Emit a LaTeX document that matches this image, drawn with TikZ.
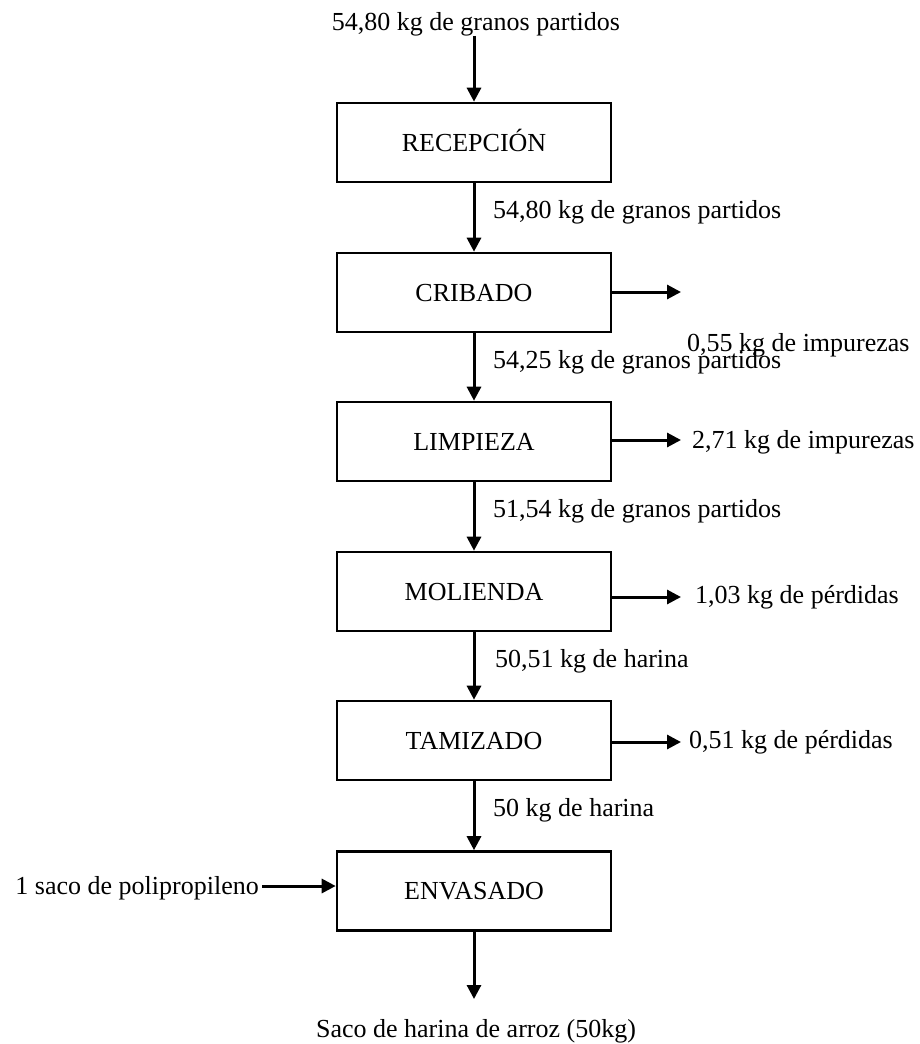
\documentclass[tikz,border=0pt]{standalone}
\usepackage{fontspec}
\setmainfont{Liberation Serif}
\usetikzlibrary{arrows.meta}
\begin{document}
\begin{tikzpicture}[x=1pt,y=-1pt,
  every node/.style={font=\fontsize{26}{31}\selectfont, inner sep=0pt},
  box/.style={draw, line width=2.6pt, minimum width=274pt, minimum height=79pt, text height=17pt, text depth=0pt},
  flow/.style={line width=3pt, -{Triangle[length=14pt,width=14pt]}},
  lbl/.style={anchor=base west}]
\useasboundingbox (0,0) rectangle (920,1044);
% boxes
\node[box] (rec) at (474,142.5) {RECEPCIÓN};
\node[box] (cri) at (474,292.5) {CRIBADO};
\node[box] (lim) at (474,441.5) {LIMPIEZA};
\node[box] (mol) at (474,591.5) {MOLIENDA};
\node[box] (tam) at (474,740.5) {TAMIZADO};
\node[box] (env) at (474,891) {ENVASADO};
% input / output texts
\node[anchor=base] (in) at (476,30) {54,80 kg de granos partidos};
\node[anchor=base] (out) at (476,1037) {Saco de harina de arroz (50kg)};
\node[anchor=base east] (saco) at (259,894) {1 saco de polipropileno};
% flow labels
\node[lbl] (l1) at (493,218) {54,80 kg de granos partidos};
\node[lbl] (l2) at (493,368) {54,25 kg de granos partidos};
\node[lbl] (l3) at (493,517) {51,54 kg de granos partidos};
\node[lbl] (l4) at (495,667) {50,51 kg de harina};
\node[lbl] (l5) at (493,816) {50 kg de harina};
% side labels
\node[lbl] (s1) at (687,351) {0,55 kg de impurezas};
\node[lbl] (s2) at (692,448) {2,71 kg de impurezas};
\node[lbl] (s3) at (695,603) {1,03 kg de pérdidas};
\node[lbl] (s4) at (689,748) {0,51 kg de pérdidas};
% free ends
\coordinate (c1) at (681,292);
\coordinate (c2) at (681,440);
\coordinate (c3) at (681,597);
\coordinate (c4) at (681,742);
\coordinate (cout) at (474,999);
% main flow
\draw[flow] (in.south -| rec.north) -- (rec.north);
\draw[flow] (rec) -- (cri);
\draw[flow] (cri) -- (lim);
\draw[flow] (lim) -- (mol);
\draw[flow] (mol) -- (tam);
\draw[flow] (tam) -- (env);
\draw[flow] (env) -- (cout);
% side flows
\draw[flow] (cri.east |- c1) -- (c1);
\draw[flow] (lim.east |- c2) -- (c2);
\draw[flow] (mol.east |- c3) -- (c3);
\draw[flow] (tam.east |- c4) -- (c4);
\draw[flow] ([xshift=3pt]saco.east |- 0,886) -- (env.west |- 0,886);
\end{tikzpicture}
\end{document}
